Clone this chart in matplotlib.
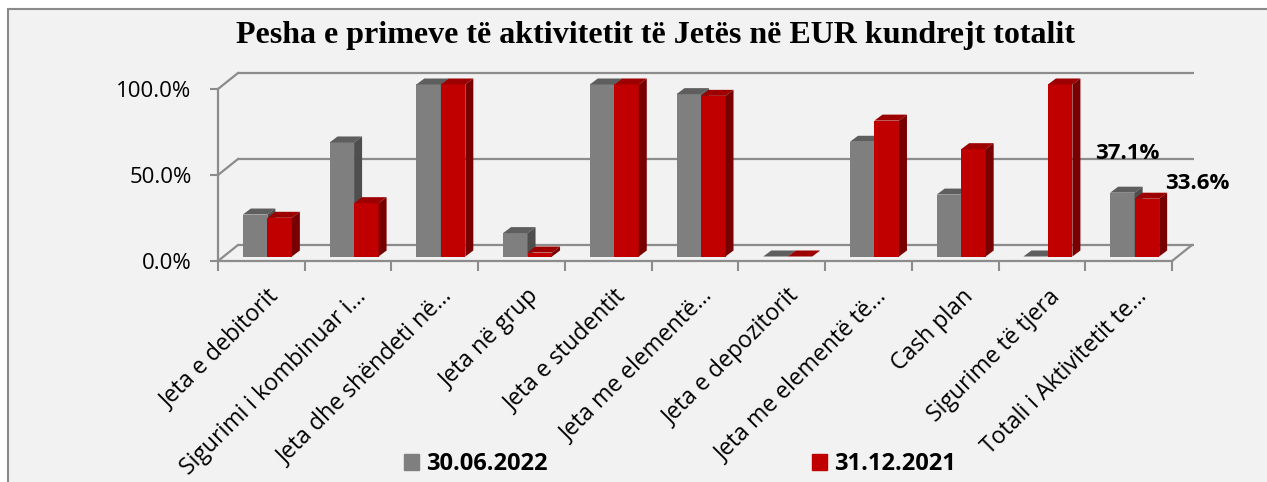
import matplotlib.pyplot as plt
from matplotlib.patches import Polygon, Rectangle, Patch
from matplotlib.ticker import FuncFormatter

# data (percent)
categories = ["Jeta e debitorit", "Sigurimi i kombinuar i…", "Jeta dhe shëndeti në…",
              "Jeta në grup", "Jeta e studentit", "Jeta me elementë…",
              "Jeta e depozitorit", "Jeta me elementë të…", "Cash plan",
              "Sigurime të tjera", "Totali i Aktivitetit te…"]
jun_2022 = [24.4, 66.3, 100.0, 13.6, 100.0, 94.4, 0.0, 66.7, 36.0, 0.0, 37.1]
dec_2021 = [22.5, 31.0, 100.0, 2.3, 100.0, 93.4, 0.0, 79.0, 62.4, 100.0, 33.6]
series_names = ["30.06.2022", "31.12.2021"]
labelled = {10: (37.1, 33.6)}

plt.rcParams['font.family'] = ['Open Sans', 'DejaVu Sans']

W, H = 1267, 482
fig = plt.figure(figsize=(W / 100, H / 100), dpi=100)
fig.patch.set_facecolor('white')

# chart area with its border (runs off the right and bottom edges)
fig.add_artist(Rectangle((8 / W, -0.05), 1.1, 1 - 9 / H + 0.05, transform=fig.transFigure,
                         facecolor='#f2f2f2', edgecolor='#8a8a8a', lw=1.5, zorder=0))

# pixel layout of the plot box
x_left, x_right, y_bot, y_top = 218, 1194, 261, 73
cat_px = (1172 - 218) / 11
pct_px = 172 / 100
ax = fig.add_axes([x_left / W, 1 - y_bot / H, (x_right - x_left) / W, (y_bot - y_top) / H])
ax.set_xlim(0, (x_right - x_left) / cat_px)
ax.set_ylim(0, (y_bot - y_top) / pct_px)
ax.patch.set_alpha(0)

PX = 1 / cat_px      # data-x per pixel
PY = 1 / pct_px      # data-y per pixel
wall_dx, wall_dy = 20 * PX, 16 * PY
bar_dx, bar_dy = 6 * PX, 4.5 * PY
depth_dx, depth_dy = 8 * PX, 6 * PY
bw = 24.5 * PX
line_c = '#8c8c8c'
n = len(categories)

# back wall gridlines + left wall
for v in [0, 50, 100]:
    ax.plot([wall_dx, ax.get_xlim()[1]], [v + wall_dy, v + wall_dy], color=line_c, lw=1.6,
            zorder=0.5, clip_on=False, solid_capstyle='butt')
    ax.plot([0, wall_dx], [v, v + wall_dy], color=line_c, lw=1.6, zorder=0.5, clip_on=False)
ax.plot([n, n + wall_dx], [0, wall_dy], color=line_c, lw=1.6, zorder=0.5, clip_on=False)

colors = [('#7f7f7f', '#5e5e5e', '#4e4e4e'), ('#c00000', '#9c0000', '#780000')]


def draw_bar(x0, h, cols):
    face, top, side = cols
    ax.bar(x0, h, width=bw, bottom=bar_dy, align='edge', color=face, lw=0, zorder=2)
    yt = bar_dy + h
    ax.add_patch(Polygon([(x0, yt), (x0 + bw, yt), (x0 + bw + depth_dx, yt + depth_dy),
                          (x0 + depth_dx, yt + depth_dy)], closed=True, color=top, lw=0,
                         zorder=2, clip_on=False))
    ax.add_patch(Polygon([(x0 + bw, bar_dy), (x0 + bw + depth_dx, bar_dy + depth_dy),
                          (x0 + bw + depth_dx, yt + depth_dy), (x0 + bw, yt)], closed=True,
                         color=side, lw=0, zorder=2, clip_on=False))


for i in range(n):
    c = i + 0.5 + bar_dx
    draw_bar(c - bw, jun_2022[i], colors[0])
    draw_bar(c, dec_2021[i], colors[1])

# value labels on the total group
for i, (g, r) in labelled.items():
    c = i + 0.5 + bar_dx
    ax.annotate(f"{g:.1f}%", xy=(c - bw / 2, bar_dy + g), xytext=(3.6, 28),
                textcoords='offset points', ha='center', va='center', fontsize=16,
                fontweight='bold', zorder=5)
    ax.annotate(f"{r:.1f}%", xy=(c + bw / 2, bar_dy + r), xytext=(36, 11),
                textcoords='offset points', ha='center', va='center', fontsize=16,
                fontweight='bold', zorder=5)

# axes
for s in ['top', 'right']:
    ax.spines[s].set_visible(False)
for s in ['left', 'bottom']:
    ax.spines[s].set_color(line_c)
    ax.spines[s].set_linewidth(1.6)
ax.spines['left'].set_bounds(0, 100)
ax.spines['bottom'].set_bounds(0, n)

ax.set_yticks([0, 50, 100])
ax.yaxis.set_major_formatter(FuncFormatter(lambda v, p: f"{v:.1f}%"))
ax.tick_params(axis='y', length=6, width=1.5, color=line_c, pad=13, labelsize=16)

ax.set_xticks(range(n + 1))
ax.set_xticklabels([])
ax.set_xticks([i + 0.5 + 6 * PX for i in range(n)], minor=True)
ax.set_xticklabels(categories, minor=True, rotation=45, ha='right', va='top',
                   rotation_mode='anchor', fontsize=16.6)
ax.tick_params(axis='x', which='major', length=7, width=1.5, color=line_c)
ax.tick_params(axis='x', which='minor', length=0, pad=17)

fig.text(656 / W, 1 - 35 / H, "Pesha e primeve të aktivitetit të Jetës në EUR kundrejt totalit",
         ha='center', va='center', fontsize=23, fontweight='bold', family='Liberation Serif')

handles = [Patch(color=colors[0][0]), Patch(color=colors[1][0])]
fig.legend(handles, series_names, loc='center', bbox_to_anchor=(680 / W, 1 - 464 / H),
           ncol=2, frameon=False, prop={'weight': 'bold', 'size': 17}, handlelength=0.65,
           handleheight=0.65, handletextpad=0.3, columnspacing=11.2)

fig.savefig('out.png', dpi=100, facecolor=fig.get_facecolor())
